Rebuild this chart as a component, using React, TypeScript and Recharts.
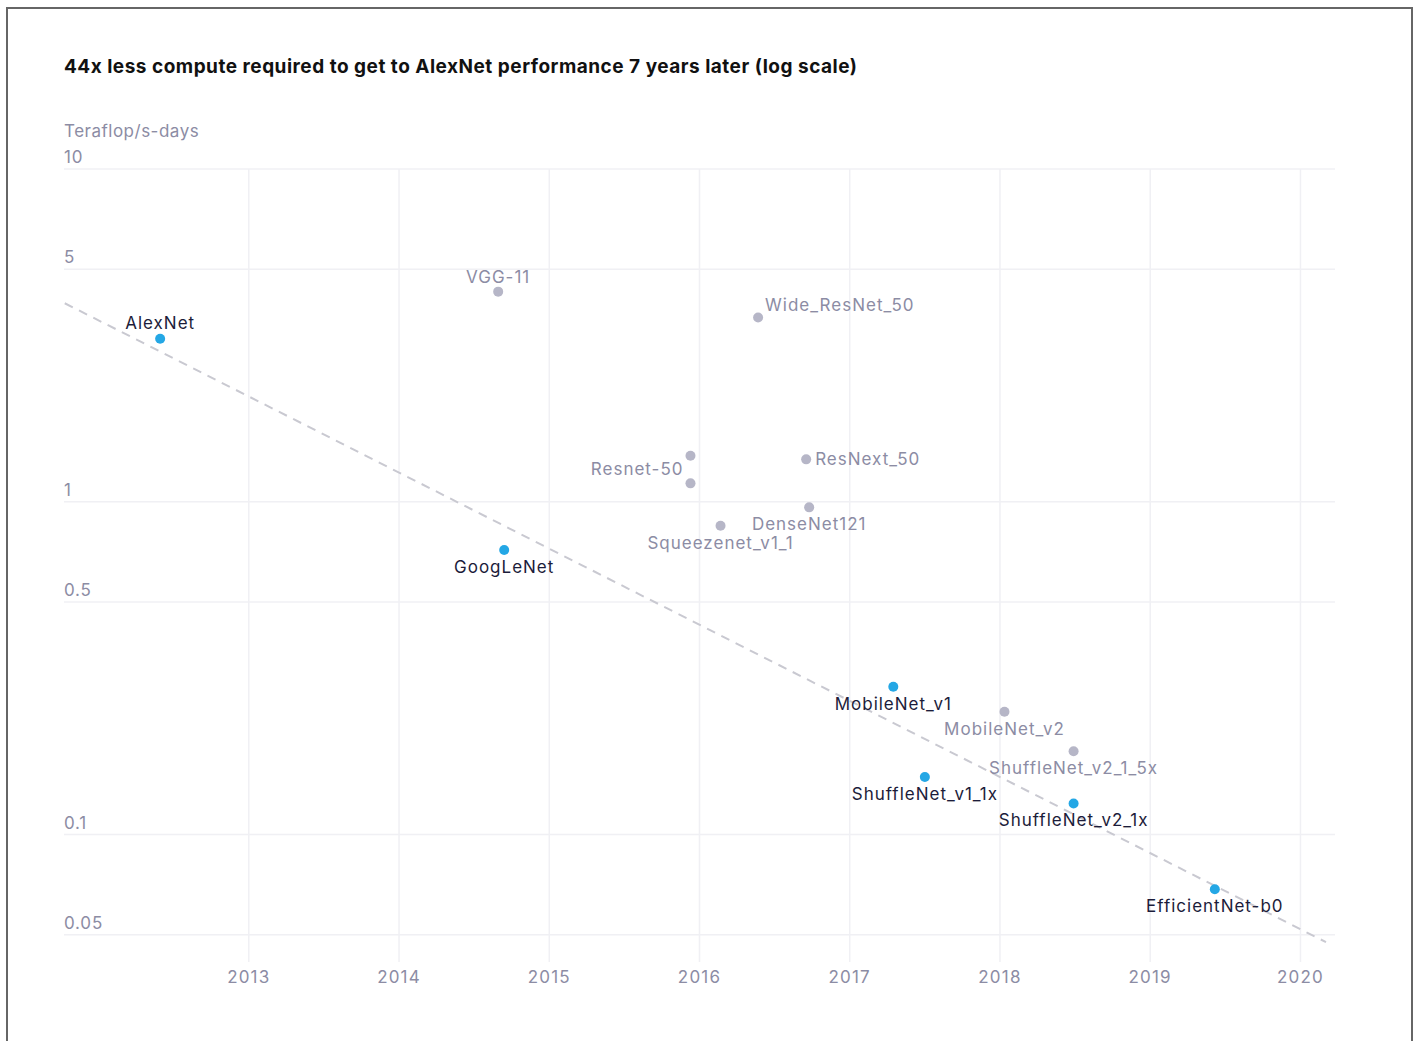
import React from 'react'
import { ScatterChart, Scatter, XAxis, YAxis, ReferenceLine } from 'recharts'

// model data
const modelNames = [
  'AlexNet', 'VGG-11', 'GoogLeNet', 'Resnet-50', 'Resnet-50', 'Squeezenet_v1_1',
  'Wide_ResNet_50', 'ResNext_50', 'DenseNet121', 'MobileNet_v1', 'ShuffleNet_v1_1x',
  'MobileNet_v2', 'ShuffleNet_v2_1_5x', 'ShuffleNet_v2_1x', 'EfficientNet-b0',
]
const modelYears = [
  2012.41, 2014.66, 2014.70, 2015.94, 2015.94, 2016.14,
  2016.39, 2016.71, 2016.73, 2017.29, 2017.50,
  2018.03, 2018.49, 2018.49, 2019.43,
]
const modelCompute = [
  3.09, 4.28, 0.716, 1.375, 1.136, 0.847,
  3.58, 1.341, 0.962, 0.278, 0.149,
  0.234, 0.178, 0.124, 0.0685,
]
const frontier = [
  true, false, true, false, false, false,
  false, false, false, true, true,
  false, false, true, true,
]

const trendYears = [2011.775, 2020.17]
const trendCompute = [3.95, 0.0475]

const yearTicks = [2013, 2014, 2015, 2016, 2017, 2018, 2019, 2020]
const computeTicks = [0.05, 0.1, 0.5, 1, 5, 10]

// label placement per model (style only)
const labelPlacement: Record<string, { dx: number; dy: number; anchor: 'start' | 'middle' | 'end' }> = {
  'AlexNet': { dx: 0, dy: -16, anchor: 'middle' },
  'VGG-11': { dx: 0, dy: -15, anchor: 'middle' },
  'Wide_ResNet_50': { dx: 7, dy: -12, anchor: 'start' },
  'Resnet-50': { dx: -7, dy: 13, anchor: 'end' },
  'ResNext_50': { dx: 9, dy: 0, anchor: 'start' },
}
const below = { dx: 0, dy: 17, anchor: 'middle' as const }

const BLUE = '#24a7e5'
const GREY_DOT = '#b6b6c7'
const DARK_TEXT = '#1c1c3a'
const GREY_TEXT = '#8c8ca4'
const GRID = '#f0f0f4'
const FONT = 'Inter, "Noto Sans", sans-serif'

const seen = new Set<string>()
const models = modelNames.map((name, i) => {
  const showLabel = !seen.has(name)
  seen.add(name)
  return { name, year: modelYears[i], compute: modelCompute[i], frontier: frontier[i], showLabel }
})
const trend = trendYears.map((year, i) => ({ year, compute: trendCompute[i] }))

const ModelDot = (props: any) => {
  const { cx, cy, payload } = props
  if (cx == null || cy == null) return <g />
  const place = labelPlacement[payload.name] || below
  return (
    <g>
      <circle cx={cx} cy={cy} r={5} fill={payload.frontier ? BLUE : GREY_DOT} />
      {payload.showLabel && (
        <text
          x={cx + place.dx}
          y={cy + place.dy + 6}
          textAnchor={place.anchor}
          fontFamily={FONT}
          fontSize={17}
          letterSpacing={1}
          fill={payload.frontier ? DARK_TEXT : GREY_TEXT}
        >
          {payload.name}
        </text>
      )}
    </g>
  )
}

const YTick = (props: any) => {
  const { y, payload } = props
  return (
    <text x={64} y={y - 6} textAnchor="start" fontFamily={FONT} fontSize={17} letterSpacing={0.8} fill={GREY_TEXT}>
      {String(payload.value)}
    </text>
  )
}

const XTick = (props: any) => {
  const { x, y, payload } = props
  return (
    <text x={x} y={y + 13} textAnchor="middle" fontFamily={FONT} fontSize={17} letterSpacing={1.2} fill={GREY_TEXT}>
      {payload.value}
    </text>
  )
}

export default function App() {
  return (
    <div style={{ position: 'absolute', left: 0, top: 0, width: 1419, height: 1041, overflow: 'hidden', background: '#fff' }}>
      <div style={{ position: 'absolute', left: 6, top: 7, width: 1407, height: 1100, border: '2px solid #666', boxSizing: 'border-box' }} />
      <div style={{ position: 'absolute', left: 64, top: 56, fontFamily: FONT, fontSize: 19, fontWeight: 700, lineHeight: '22px', letterSpacing: 0.5, color: '#111', whiteSpace: 'nowrap' }}>
        44x less compute required to get to AlexNet performance 7 years later (log scale)
      </div>
      <div style={{ position: 'absolute', left: 64, top: 120, fontFamily: FONT, fontSize: 17, lineHeight: '22px', letterSpacing: 0.5, color: GREY_TEXT, whiteSpace: 'nowrap' }}>
        Teraflop/s-days
      </div>
      <div style={{ position: 'absolute', left: 0, top: 0 }}>
        <ScatterChart width={1419} height={1041} margin={{ top: 169, right: 84, bottom: 0, left: 63 }}>
          <XAxis
            type="number"
            dataKey="year"
            domain={[2011.77, 2020.23]}
            ticks={yearTicks}
            allowDataOverflow
            axisLine={false}
            tickLine={false}
            tick={<XTick />}
            height={79}
          />
          <YAxis
            type="number"
            dataKey="compute"
            scale="log"
            domain={[0.0414, 10]}
            ticks={computeTicks}
            allowDataOverflow
            axisLine={false}
            tickLine={false}
            tick={<YTick />}
            width={1}
          />
          {yearTicks.map(t => (
            <ReferenceLine key={'x' + t} x={t} stroke={GRID} strokeWidth={1.5} />
          ))}
          {computeTicks.map(t => (
            <ReferenceLine key={'y' + t} y={t} stroke={GRID} strokeWidth={1.5} />
          ))}
          <Scatter
            data={trend}
            line={{ stroke: '#c9c9d1', strokeWidth: 2, strokeDasharray: '9 7' }}
            shape={() => <g />}
            isAnimationActive={false}
          />
          <Scatter data={models} shape={<ModelDot />} isAnimationActive={false} />
        </ScatterChart>
      </div>
    </div>
  )
}
